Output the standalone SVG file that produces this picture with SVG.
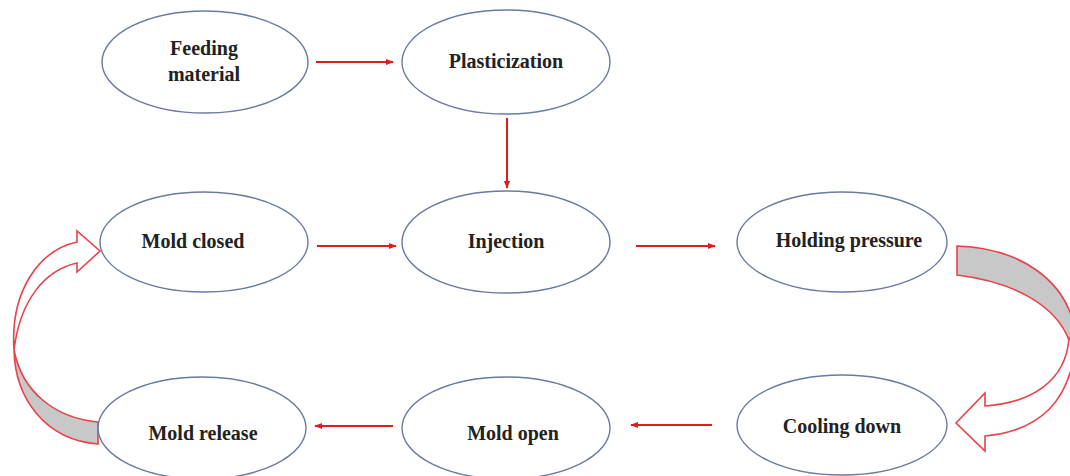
<svg xmlns="http://www.w3.org/2000/svg" width="1070" height="476" viewBox="0 0 1070 476">
<style>
.node ellipse{fill:#fff;stroke:#6a7aa0;stroke-width:1.4}
.node text{font-family:"Liberation Serif","Times New Roman",serif;font-weight:bold;font-size:20px;fill:#222;text-anchor:middle}
.conn line{stroke:#e01c1c;stroke-width:2;fill:none}
.big{stroke:#e8424a;stroke-width:1.6;stroke-linejoin:miter}
</style>
<defs>
<marker id="ah" viewBox="0 0 10 10" refX="9" refY="5" markerWidth="4" markerHeight="4" orient="auto" markerUnits="strokeWidth">
<path d="M0,1 L10,5 L0,9 Z" fill="#e01c1c"/>
</marker>
</defs>
<rect width="1070" height="476" fill="#fff"/>
<g id="connectors" class="conn">
<line x1="316" y1="62" x2="393" y2="62" marker-end="url(#ah)"/>
<line x1="507" y1="118" x2="507" y2="188" marker-end="url(#ah)"/>
<line x1="317" y1="246" x2="396" y2="246" marker-end="url(#ah)"/>
<line x1="636" y1="246" x2="715" y2="246" marker-end="url(#ah)"/>
<line x1="712" y1="425" x2="631" y2="425" marker-end="url(#ah)"/>
<line x1="393" y1="426" x2="315" y2="426" marker-end="url(#ah)"/>
<g id="curved-right">
<path class="big" fill="#c8c8c8" d="M957,246 C1020,248 1066,280 1075,330 L1069,340 C1056,306 1015,282 957,275 Z"/>
<path class="big" fill="#fff" d="M1069,338 C1066,382 1030,403 985,406 L985,393 L956,423 L985,451 L985,436 C1040,431 1071,400 1075,345 Z"/>
</g>
<g id="curved-left">
<path class="big" fill="#c8c8c8" d="M98,422 C55,418 22,392 14,350 C15,398 45,440 98,444 Z"/>
<path class="big" fill="#fff" d="M14,350 C10,290 40,250 77,242 L77,231 L100,251 L77,272 L77,263 C45,270 20,300 14,350 Z"/>
</g>
</g>
<g id="feeding" class="node"><ellipse cx="205" cy="62" rx="103" ry="51"/><text x="204" y="55">Feeding</text><text x="204" y="81">material</text></g>
<g id="plasticization" class="node"><ellipse cx="506" cy="62" rx="104" ry="52"/><text x="506" y="68">Plasticization</text></g>
<g id="mold-closed" class="node"><ellipse cx="204" cy="242" rx="104" ry="50"/><text x="193" y="248">Mold closed</text></g>
<g id="injection" class="node"><ellipse cx="506" cy="242" rx="104" ry="51"/><text x="506" y="248">Injection</text></g>
<g id="holding" class="node"><ellipse cx="842" cy="242" rx="105" ry="50"/><text x="849" y="247">Holding pressure</text></g>
<g id="mold-release" class="node"><ellipse cx="202" cy="428" rx="104" ry="51"/><text x="203" y="440">Mold release</text></g>
<g id="mold-open" class="node"><ellipse cx="506" cy="428" rx="104" ry="51"/><text x="513" y="440">Mold open</text></g>
<g id="cooling" class="node"><ellipse cx="842" cy="425" rx="105" ry="50"/><text x="842" y="433">Cooling down</text></g>
</svg>
